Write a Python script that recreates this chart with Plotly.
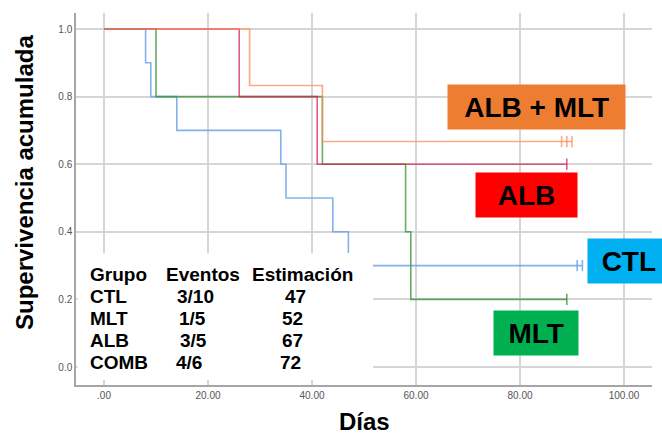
import plotly.graph_objects as go

# ---- data ----
groups = ["CTL", "MLT", "ALB", "COMB"]
ctl_times = [0, 8, 9, 14, 34, 35, 44, 47, 92]
ctl_surv = [1.0, 0.9, 0.8, 0.7, 0.6, 0.5, 0.4, 0.3, 0.3]
ctl_cens = [91, 92]

mlt_times = [0, 10, 42, 58, 59, 89]
mlt_surv = [1.0, 0.8, 0.6, 0.4, 0.2, 0.2]
mlt_cens = [89]

alb_times = [0, 26, 41, 89]
alb_surv = [1.0, 0.8, 0.6, 0.6]
alb_cens = [89]

comb_times = [0, 28, 42, 90]
comb_surv = [1.0, 0.833, 0.667, 0.667]
comb_cens = [88, 89, 90]

table_header = ["Grupo", "Eventos", "Estimación"]
table_groups = ["CTL", "MLT", "ALB", "COMB"]
table_events = ["3/10", "1/5", "3/5", "4/6"]
table_est = ["47", "52", "67", "72"]

x_ticks = [0, 20, 40, 60, 80, 100]
x_ticktext = [".00", "20.00", "40.00", "60.00", "80.00", "100.00"]
y_ticks = [0.0, 0.2, 0.4, 0.6, 0.8, 1.0]

# ---- layout geometry ----
W, H = 662, 434
L, R, T, B = 76, 10, 13, 49
PW, PH = W - L - R, H - T - B


def px(x):
    return (x - L) / PW


def py(y):
    return (H - B - y) / PH


series = [
    (ctl_times, ctl_surv, ctl_cens, "rgba(110,165,235,0.85)"),
    (mlt_times, mlt_surv, mlt_cens, "rgba(50,145,50,0.75)"),
    (alb_times, alb_surv, alb_cens, "rgba(215,30,85,0.72)"),
    (comb_times, comb_surv, comb_cens, "rgba(255,140,90,0.75)"),
]

fig = go.Figure()
for (t, s, c, col), name in zip(series, groups):
    fig.add_trace(go.Scatter(x=t, y=s, mode="lines", line=dict(shape="hv", color=col, width=1.6),
                             name=name, showlegend=False, hoverinfo="skip"))
    fig.add_trace(go.Scatter(x=c, y=[s[-1]] * len(c), mode="markers",
                             marker=dict(symbol="line-ns", size=8, line=dict(color=col, width=1.6)),
                             showlegend=False, hoverinfo="skip"))

# white box under the table
fig.add_shape(type="rect", xref="paper", yref="paper", x0=px(77.5), x1=px(373), y0=py(380), y1=py(253),
              fillcolor="white", line=dict(width=0), layer="above")

annots = []
font_t = dict(family="Liberation Sans, Arial", size=19, color="black")
dx = -2.5
row_y = [273, 295.5, 317.5, 339.5, 361.5]
annots.append(dict(text="<b>%s</b>" % table_header[0], x=px(90.5 + dx), y=py(row_y[0] + 1)))
annots.append(dict(text="<b>%s</b>" % table_header[1], x=px(166 + dx), y=py(row_y[0] + 1)))
annots.append(dict(text="<b>%s</b>" % table_header[2], x=px(252.5 + dx), y=py(row_y[0] + 1)))
ev_x = [177.3, 179, 180, 176.7]
es_x = [285, 282, 282, 280]
for i in range(4):
    yy = py(row_y[i + 1] + 1)
    annots.append(dict(text="<b>%s</b>" % table_groups[i], x=px(90.5 + dx), y=yy))
    annots.append(dict(text="<b>%s</b>" % table_events[i], x=px(ev_x[i] + dx), y=yy))
    annots.append(dict(text="<b>%s</b>" % table_est[i], x=px(es_x[i] + dx), y=yy))
for a in annots:
    a.update(xref="paper", yref="paper", xanchor="left", yanchor="middle", showarrow=False, font=font_t)

font_l = dict(family="Liberation Sans, Arial", size=28, color="black")
boxes = [
    ("ALB + MLT", 447.7, 625, 85, 129, "#ED7D31"),
    ("ALB", 475.7, 576.7, 172.3, 216.7, "#FF0000"),
    ("CTL", 588.3, 670, 239, 283.3, "#00B0F0"),
    ("MLT", 494, 578.3, 310.7, 355, "#00B050"),
]
for txt, x0, x1, y0, y1, col in boxes:
    annots.append(dict(text="<b>%s</b>" % txt, xref="paper", yref="paper",
                       x=px((x0 + x1) / 2), y=py((y0 + y1) / 2), xanchor="center", yanchor="middle",
                       width=x1 - x0, height=y1 - y0, borderpad=0, bgcolor=col, showarrow=False,
                       font=font_l, align="center", valign="middle"))

font_ax = dict(family="Liberation Sans, Arial", size=24, color="black")
annots.append(dict(text="<b>Supervivencia acumulada</b>", textangle=-90, xref="paper", yref="paper",
                   x=px(24), y=py(183), xanchor="center", yanchor="middle", showarrow=False, font=font_ax))
annots.append(dict(text="<b>Días</b>", xref="paper", yref="paper",
                   x=px(364), y=py(422), xanchor="center", yanchor="middle", showarrow=False, font=font_ax))

x0d = -28 / 5.2
fig.update_layout(
    width=W, height=H, autosize=False,
    margin=dict(l=L, r=R, t=T, b=B, pad=0),
    paper_bgcolor="white", plot_bgcolor="white",
    annotations=annots,
    xaxis=dict(range=[x0d, x0d + PW / 5.2], tickvals=x_ticks, ticktext=x_ticktext,
               showgrid=True, gridcolor="#d6d6d6", gridwidth=1.5, zeroline=False,
               showline=True, linecolor="#a6a6a6", linewidth=1.5, ticks="",
               tickfont=dict(family="Liberation Sans, Arial", size=10, color="#555555")),
    yaxis=dict(range=[-18 / 338, 1 + 16 / 338], tickvals=y_ticks, tickformat=".1f",
               showgrid=True, gridcolor="#d6d6d6", gridwidth=1.5, zeroline=False,
               showline=True, linecolor="#a6a6a6", linewidth=1.5, ticks="",
               tickfont=dict(family="Liberation Sans, Arial", size=10, color="#555555")),
)

fig.write_html("out.html")
